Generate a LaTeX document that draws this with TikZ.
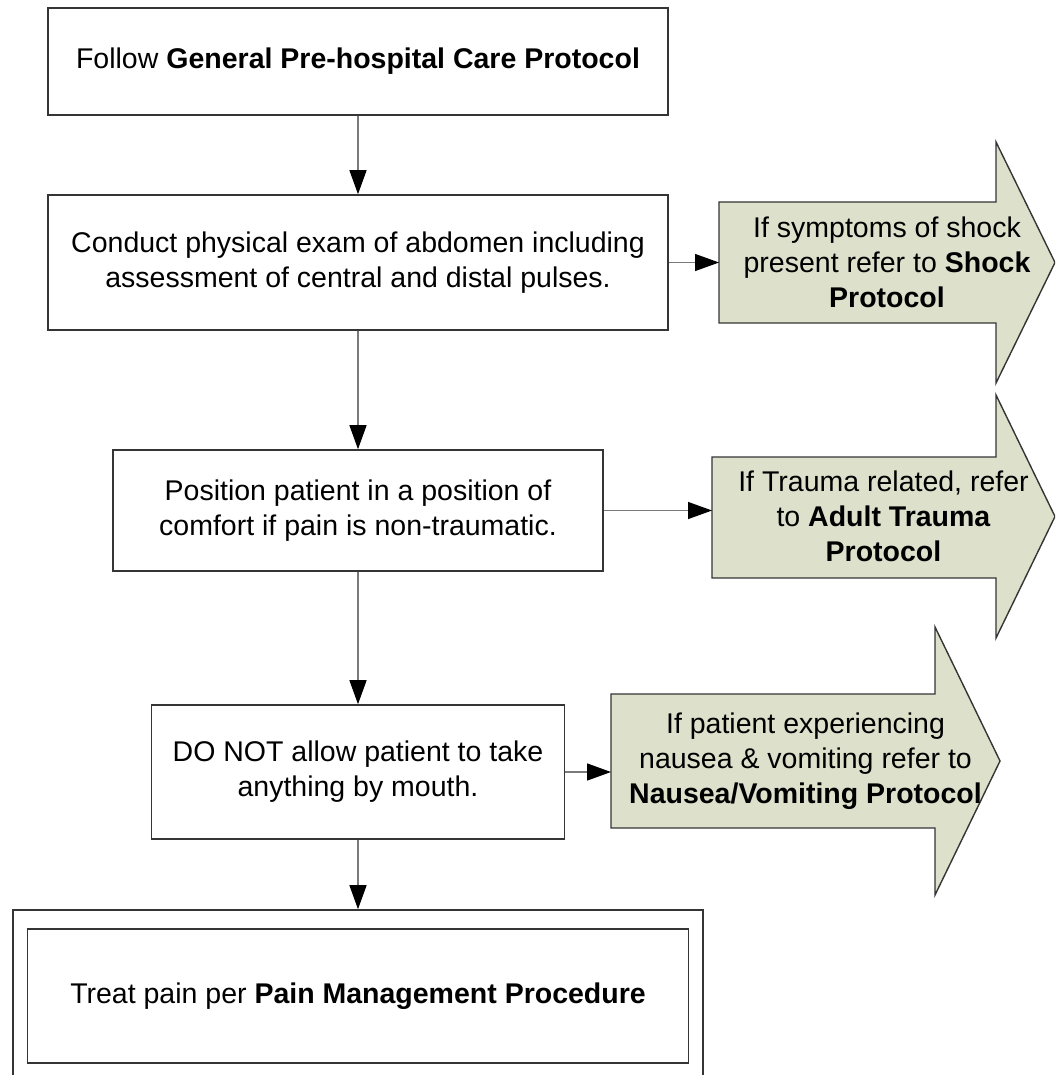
\documentclass[tikz,border=0pt]{standalone}
\usepackage{fontspec}
\setmainfont{Liberation Sans}
\usetikzlibrary{arrows.meta,calc}
\definecolor{linegray}{HTML}{353535}
\definecolor{wirecol}{HTML}{7A7A7A}
\definecolor{notefill}{HTML}{DDE0CB}
\begin{document}
\begin{tikzpicture}[x=0.5pt,y=-0.5pt,
  txt/.style={font=\fontsize{14.25}{17.5}\selectfont, align=center},
  stepbox/.style={draw=linegray, line width=0.8pt, fill=white, txt, inner sep=0pt},
  bodybox/.style={inner sep=0pt, outer sep=0pt},
  notearrow/.style={draw=linegray, line width=0.7pt, fill=notefill, line join=miter},
  wire/.style={draw=wirecol, line width=0.7pt, -{Triangle[length=12pt,width=8.5pt,color=black]}}]

\clip (0,0) rectangle (1055,1075);
\fill[white] (0,0) rectangle (1055,1075);

% main column of steps
\node[stepbox, minimum width=310pt, minimum height=53.5pt] (general) at (358,61.5)
  {Follow \textbf{General Pre-hospital Care Protocol}};
\node[stepbox, minimum width=310pt, minimum height=67.5pt] (exam) at (358,262.5)
  {Conduct physical exam of abdomen including\\assessment of central and distal pulses.};
\node[stepbox, minimum width=245pt, minimum height=60.5pt] (position) at (358,510.5)
  {Position patient in a position of\\comfort if pain is non-traumatic.};
\node[stepbox, minimum width=206.5pt, minimum height=67pt] (nothing) at (358,772)
  {DO NOT allow patient to take\\anything by mouth.};
\node[draw=linegray, line width=0.8pt, minimum width=344.75pt, minimum height=86pt, inner sep=0pt] (painouter) at (358,996) {};
\node[stepbox, minimum width=330.5pt, minimum height=67pt] (pain) at (358,996)
  {Treat pain per \textbf{Pain Management Procedure}};

% referral arrows: body rectangles, then the arrow outlines around them
\node[bodybox, minimum width=138.5pt, minimum height=60.5pt] (shockbody) at (857.5,262.5) {};
\node[bodybox, minimum width=142pt, minimum height=60.5pt] (traumabody) at (854,517.5) {};
\node[bodybox, minimum width=162pt, minimum height=67pt] (nauseabody) at (773,761) {};

\path[notearrow] (shockbody.north west) -- (shockbody.north east) -- (996,142) -- (1055,262.5)
  -- (996,383) -- (shockbody.south east) -- (shockbody.south west) -- cycle;
\path[notearrow] (traumabody.north west) -- (traumabody.north east) -- (996,395) -- (1055,516.5)
  -- (996,638) -- (traumabody.south east) -- (traumabody.south west) -- cycle;
\path[notearrow] (nauseabody.north west) -- (nauseabody.north east) -- (935,627) -- (1000,761)
  -- (935,895) -- (nauseabody.south east) -- (nauseabody.south west) -- cycle;

\node[txt] (shock) at (887,262.5)
  {If symptoms of shock\\present refer to \textbf{Shock}\\\textbf{Protocol}};
\node[txt] (trauma) at (883.5,516.5)
  {If Trauma related, refer\\to \textbf{Adult Trauma}\\\textbf{Protocol}};
\node[txt] (nausea) at (805.5,761)
  {If patient experiencing\\nausea \& vomiting refer to\\\textbf{Nausea/Vomiting Protocol}};

% connectors
\draw[wire] (general) -- (exam);
\draw[wire] (exam) -- (position);
\draw[wire] (position) -- (nothing);
\draw[wire] (nothing.south) -- (painouter.north);
\draw[wire] (exam.east) -- (exam.east -| shockbody.west);
\draw[wire] (position.east) -- (position.east -| traumabody.west);
\draw[wire] (nothing.east) -- (nothing.east -| nauseabody.west);
\end{tikzpicture}
\end{document}
